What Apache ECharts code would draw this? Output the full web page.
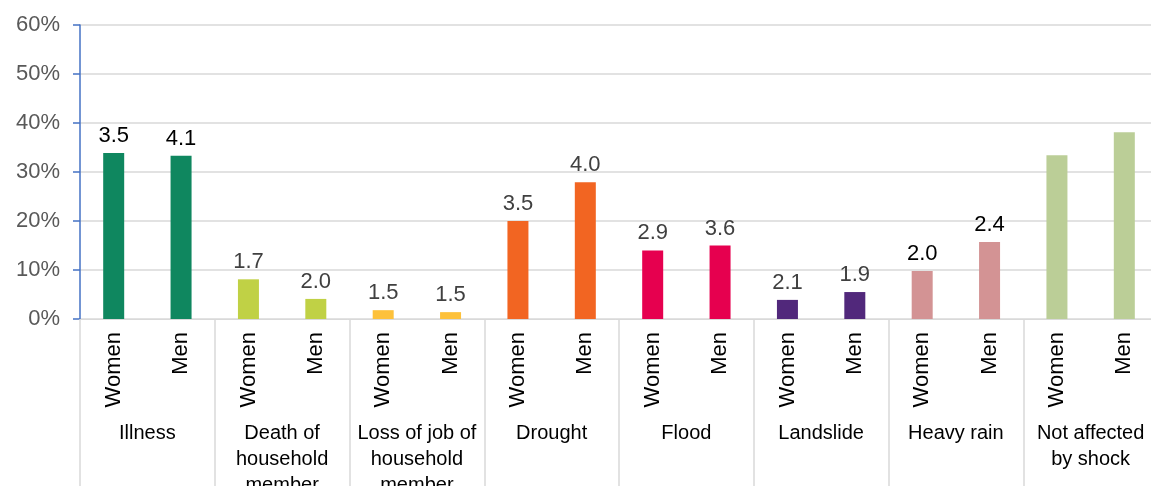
<!DOCTYPE html>
<html>
<head>
<meta charset="utf-8">
<script src="https://cdn.jsdelivr.net/npm/echarts@6/dist/echarts.min.js"></script>
<style>
  html, body { margin: 0; padding: 0; background: #fff; }
  #chart { width: 1151px; height: 486px; }
</style>
</head>
<body>
<div id="chart"></div>
<script>
// shock types (outer axis) and sex (inner axis)
const shocks = ['Illness', 'Death of\nhousehold\nmember', 'Loss of job of\nhousehold\nmember', 'Drought', 'Flood', 'Landslide', 'Heavy rain', 'Not affected\nby shock'];
const sexes = ['Women', 'Men'];
// share of respondents, %
const womenShare = [33.9, 8.1, 1.8, 20.0, 14.0, 3.9, 9.8, 33.4];
const menShare = [33.3, 4.1, 1.4, 27.9, 15.0, 5.5, 15.7, 38.1];
// numbers printed above the bars
const womenLabels = ['3.5', '1.7', '1.5', '3.5', '2.9', '2.1', '2.0', ''];
const menLabels = ['4.1', '2.0', '1.5', '4.0', '3.6', '1.9', '2.4', ''];
const yTicks = [0, 10, 20, 30, 40, 50, 60];

const shockColors = ['#0f875f', '#c0d145', '#fdc13b', '#f26522', '#e6004f', '#51287b', '#d39394', '#bbce97'];
const labelColors = ['#000', '#404040', '#404040', '#404040', '#404040', '#404040', '#000', '#404040'];

let cats = [], bars = [];
shocks.forEach((s, i) => {
    [womenShare[i], menShare[i]].forEach((v, j) => {
        cats.push(sexes[j]);
        bars.push({
            value: v,
            itemStyle: { color: shockColors[i] },
            label: {
                formatter: j === 0 ? womenLabels[i] : menLabels[i],
                color: labelColors[i]
            }
        });
    });
});

const font = 'Liberation Sans, Arial, sans-serif';
const chart = echarts.init(document.getElementById('chart'));
chart.setOption({
    animation: false,
    grid: { left: 80, right: -7, top: 25, bottom: 167, outerBoundsMode: 'none', containLabel: false },
    xAxis: [
        {
            type: 'category',
            data: cats,
            axisLine: { lineStyle: { color: '#d9d9d9', width: 1 } },
            axisTick: { show: false },
            axisLabel: {
                rotate: 90, margin: 13, interval: 0,
                fontFamily: font, fontSize: 22, color: '#000'
            }
        },
        {
            type: 'category',
            data: shocks,
            position: 'bottom',
            axisLine: { show: false },
            axisTick: { show: true, length: 170, lineStyle: { color: '#d9d9d9', width: 1.5 } },
            axisLabel: {
                margin: 101, interval: 0, lineHeight: 26,
                fontFamily: font, fontSize: 20, color: '#000'
            }
        }
    ],
    yAxis: {
        type: 'value',
        min: yTicks[0],
        max: yTicks[yTicks.length - 1],
        interval: 10,
        axisLine: { show: true, lineStyle: { color: '#4472c4', width: 1.5 } },
        axisTick: { show: true, length: 7, lineStyle: { color: '#4472c4', width: 1.5 } },
        splitLine: { lineStyle: { color: '#d9d9d9', width: 1.5 } },
        axisLabel: {
            formatter: '{value}%', margin: 20,
            fontFamily: font, fontSize: 22, color: '#595959'
        }
    },
    series: [{
        type: 'bar',
        xAxisIndex: 0,
        data: bars,
        barWidth: 21,
        label: {
            show: true, position: 'top', distance: 6,
            fontFamily: font, fontSize: 22
        }
    }]
});
</script>
</body>
</html>
